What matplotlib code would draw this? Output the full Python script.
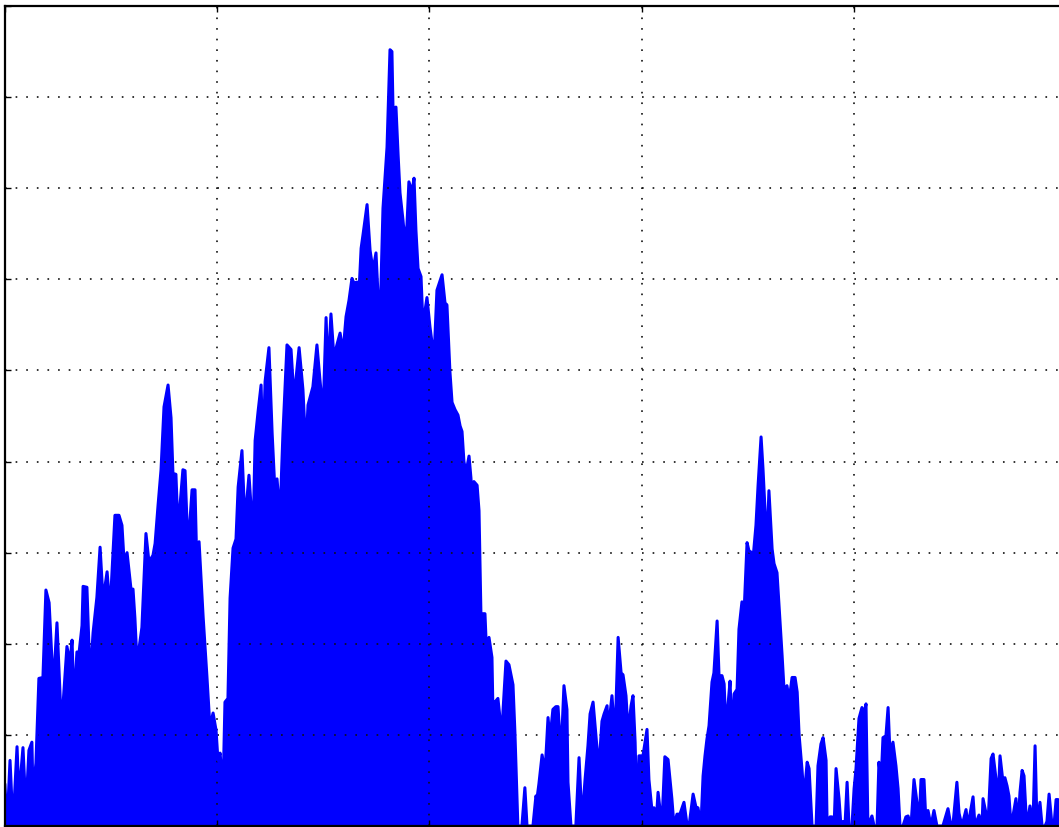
import matplotlib
matplotlib.use("Agg")
import matplotlib.pyplot as plt
import numpy as np

# Signal envelope (x: grid spacing = 100, y: grid spacing = 1)
x_vals = [
    0.2, 1.2, 2.6, 4.0, 5.9, 6.8, 8.7, 10.1, 11.5, 12.9, 13.4, 14.8, 16.2, 18.1, 19.5, 21.0,
    22.4, 23.3, 24.7, 26.6, 27.5, 29.4, 30.8, 31.8, 32.7, 34.1, 35.1, 36.5, 37.0, 38.8, 40.3,
    41.7, 43.5, 45.0, 46.4, 48.3, 49.7, 52.0, 53.9, 55.3, 56.3, 57.7, 59.6, 60.5, 61.4, 62.4,
    64.7, 66.6, 68.0, 69.9, 70.9, 72.3, 73.7, 75.1, 77.0, 78.4, 79.3, 80.7, 81.7, 84.0, 85.0,
    86.4, 88.3, 89.7, 90.6, 91.6, 93.5, 95.3, 96.7, 98.2, 99.6, 100.5, 101.5, 102.9, 103.8,
    105.2, 106.2, 107.6, 109.0, 110.0, 111.8, 113.2, 115.1, 117.0, 118.0, 119.4, 120.8, 121.7,
    122.7, 124.5, 126.0, 127.4, 128.3, 129.7, 131.1, 133.0, 134.9, 136.3, 138.7, 140.5, 141.9,
    142.9, 145.2, 147.1, 148.5, 150.0, 151.4, 152.3, 153.7, 155.1, 156.5, 158.0, 159.4, 160.8,
    162.2, 163.6, 164.5, 166.0, 166.9, 167.9, 168.8, 170.7, 172.1, 173.5, 174.9, 175.8, 176.8,
    178.2, 180.1, 181.5, 182.4, 182.9, 184.3, 185.3, 186.2, 187.6, 188.6, 189.5, 190.4, 191.9,
    192.8, 193.7, 194.7, 196.1, 197.0, 198.9, 200.3, 201.3, 201.7, 203.6, 206.0, 207.4, 208.3,
    209.7, 210.7, 212.1, 213.5, 214.5, 215.4, 216.3, 217.3, 218.7, 219.6, 220.6, 221.0, 222.5,
    223.4, 224.3, 226.2, 227.2, 228.1, 229.5, 230.0, 230.9, 232.3, 234.2, 234.7, 236.1, 237.5,
    239.4, 240.3, 241.7, 243.6, 245.0, 246.0, 248.8, 250.2, 250.7, 251.6, 253.1, 254.5, 255.9,
    256.8, 258.2, 259.6, 260.6, 262.0, 263.4, 264.8, 265.3, 266.7, 269.0, 270.5, 271.9, 273.3,
    274.7, 275.7, 277.1, 279.0, 279.9, 281.3, 282.3, 283.7, 284.2, 286.0, 287.4, 288.9, 290.3,
    291.2, 292.6, 293.6, 295.0, 295.9, 296.9, 297.8, 298.7, 300.6, 302.5, 303.4, 304.8, 305.8,
    306.7, 307.7, 309.5, 310.9, 312.4, 314.2, 315.2, 316.6, 318.0, 319.9, 321.3, 322.3, 324.2,
    325.6, 326.5, 327.9, 328.9, 329.8, 330.7, 331.7, 333.1, 334.0, 335.5, 336.4, 337.8, 338.8,
    339.7, 340.6, 341.6, 342.5, 343.5, 344.9, 345.8, 347.2, 348.2, 349.6, 350.5, 351.9, 352.4,
    353.8, 354.8, 356.2, 357.1, 358.5, 359.0, 359.9, 361.4, 362.3, 363.7, 364.7, 366.1, 367.0,
    368.4, 369.4, 370.8, 372.2, 373.2, 374.1, 375.5, 376.4, 377.9, 378.8, 380.2, 382.1, 383.0,
    384.4, 385.4, 386.8, 387.3, 388.7, 389.6, 390.6, 391.5, 392.9, 393.8, 394.8, 395.7, 396.7,
    397.6, 399.0, 400.0, 400.9, 402.3, 403.7, 404.7, 405.6, 406.5, 408.4, 409.4, 410.8, 411.7,
    412.7, 413.6, 415.0, 416.0, 416.9, 418.3, 419.7, 420.7, 421.6, 423.0, 424.4, 425.4, 426.8,
    428.2, 429.6, 430.6, 431.5, 432.9, 433.9, 434.8, 436.2, 437.6, 439.0, 441.8, 444.2, 445.6,
    446.5, 448.4, 449.4, 450.8, 452.7, 453.6, 456.0, 456.9, 458.8, 460.2, 460.7, 462.1, 463.0,
    464.5, 465.4, 466.8, 467.3, 468.7, 470.1, 471.0, 472.0, 472.9, 473.9, 474.8, 476.2, 477.2,
    478.1, 479.1, 480.0, 480.9, 481.4, 482.8, 484.2, 485.2, 486.1, 487.5, 488.5, 489.9, 490.8,
    491.8, 493.2, 494.1, 495.1, 496.0, 497.9,
]
y_vals = [
    0.45, 0.0, 0.72, 0.0, 0.87, 0.32, 0.86, 0.18, 0.83, 0.92, 0.36, 0.69, 1.62, 1.63, 2.59, 2.45,
    1.79, 1.64, 2.23, 1.2, 1.31, 1.97, 1.79, 2.04, 1.33, 1.91, 1.9, 2.2, 2.63, 2.62, 1.6,
    2.12, 2.51, 3.06, 2.48, 2.79, 2.37, 3.41, 3.41, 3.3, 2.9, 3.0, 2.59, 2.6, 2.28, 1.79,
    2.18, 3.21, 2.9, 2.97, 3.1, 3.52, 3.91, 4.6, 4.84, 4.48, 3.87, 3.86, 3.25, 3.91, 3.9,
    3.03, 3.69, 3.69, 2.81, 3.12, 2.3, 1.64, 1.09, 1.24, 1.05, 0.72, 0.8, 0.4, 1.36,
    1.4, 2.5, 3.05, 3.15, 3.72, 4.12, 3.33, 3.85, 3.18, 4.23, 4.55, 4.84, 4.09,
    4.88, 5.25, 4.31, 3.64, 3.81, 3.39, 4.31, 5.28, 5.23, 4.69, 5.25, 4.79, 4.12,
    4.62, 4.82, 5.28, 4.9, 4.53, 5.58, 4.97, 5.62, 5.14, 5.28, 5.41, 5.2, 5.59,
    5.77, 6.01, 5.96, 5.97, 5.86, 6.34, 6.49, 6.82, 6.32, 6.1, 6.29, 5.85, 5.53,
    6.78, 7.45, 8.52, 8.5, 7.88, 7.89, 7.37, 6.95, 6.65, 6.4, 6.6, 7.07, 6.96,
    7.11, 6.54, 6.12, 6.03, 5.5, 5.8, 5.48, 5.3, 4.85, 5.88, 6.05, 5.74, 5.72,
    4.99, 4.65, 4.57, 4.51, 4.39, 4.33, 4.0, 3.88, 4.06, 3.82, 3.42, 3.78, 3.74,
    3.46, 2.33, 2.33, 1.77, 2.07, 1.85, 1.2, 1.36, 1.4, 0.98, 1.26, 1.81, 1.77,
    1.55, 1.03, 0.0, 0.0, 0.42, 0.0, 0.0, 0.33, 0.3, 0.46, 0.78, 0.59, 1.19,
    0.95, 1.28, 1.31, 1.31, 0.77, 1.54, 1.28, 0.48, 0.0, 0.0, 0.75, 0.05, 0.5,
    0.88, 1.23, 1.36, 0.84, 0.66, 1.15, 1.23, 1.32, 1.03, 1.43, 0.95, 2.07, 1.68,
    1.66, 1.43, 1.03, 1.32, 1.43, 0.92, 0.05, 0.77, 0.77, 1.06, 0.51, 0.18, 0.2,
    0.0, 0.37, 0.0, 0.76, 0.73, 0.3, 0.0, 0.13, 0.13, 0.26, 0.02, 0.0, 0.35,
    0.2, 0.2, 0.0, 0.55, 0.77, 0.95, 1.1, 1.58, 1.68, 2.25, 1.65, 1.65, 1.56,
    1.03, 1.32, 1.59, 0.97, 1.45, 1.5, 2.16, 2.46, 2.34, 3.11, 3.02, 3.0, 2.93,
    3.3, 3.74, 4.27, 3.92, 3.26, 3.08, 3.68, 3.04, 2.88, 2.78, 2.4, 1.87, 1.5,
    1.54, 1.38, 1.63, 1.63, 1.47, 1.0, 0.61, 0.3, 0.7, 0.63, 0.0, 0.0, 0.66,
    0.9, 0.97, 0.72, 0.0, 0.1, 0.1, 0.0, 0.63, 0.3, 0.0, 0.05, 0.0, 0.48,
    0.0, 0.0, 0.41, 0.63, 1.18, 1.3, 1.23, 1.34, 0.0, 0.11, 0.0, 0.0, 0.7,
    0.48, 0.97, 0.99, 1.3, 0.79, 0.92, 0.66, 0.41, 0.0, 0.0, 0.1, 0.11, 0.0,
    0.51, 0.26, 0.0, 0.51, 0.51, 0.0, 0.17, 0.0, 0.17, 0.0, 0.0, 0.19, 0.0,
    0.0, 0.48, 0.14, 0.0, 0.18, 0.0, 0.32, 0.0, 0.12, 0.0, 0.3, 0.14, 0.0,
    0.74, 0.79, 0.52, 0.0, 0.77, 0.48, 0.53, 0.44, 0.33, 0.0, 0.11, 0.3, 0.0,
    0.37, 0.61, 0.55, 0.15, 0.0, 0.22, 0.0, 0.88, 0.0, 0.26, 0.0, 0.0, 0.05,
    0.35, 0.0, 0.0, 0.29, 0.29, 0.1,
]

x = np.array(x_vals)
y = np.array(y_vals)

W, H, DPI = 1059, 827, 100
fig = plt.figure(figsize=(W / DPI, H / DPI), dpi=DPI)
# axes: left spine ~4.5px, bottom ~826px, top ~6px, right spine just beyond the canvas
ax = fig.add_axes([4.5 / W, 1.0 / H, 1062 / W, 820 / H])

ax.fill_between(x, 0, y, color="#0000ff", linewidth=0, zorder=2)
ax.plot(x, y, color="#0000ff", linewidth=2.2, solid_joinstyle="round", zorder=3)

ax.set_xlim(0, 500)
ax.set_ylim(0, 9)
ax.set_xticks(np.arange(0, 501, 100))
ax.set_yticks(np.arange(0, 10, 1))
ax.set_xticklabels([])
ax.set_yticklabels([])
ax.tick_params(direction="in", length=4, width=1, top=True, right=True, colors="black")
ax.grid(True, color="#111111", linestyle=(0, (1.0, 5.37)), linewidth=1.2, zorder=4)
ax.set_axisbelow(False)
for s in ax.spines.values():
    s.set_linewidth(1.6)
    s.set_zorder(5)

fig.savefig("out.png", dpi=DPI)
